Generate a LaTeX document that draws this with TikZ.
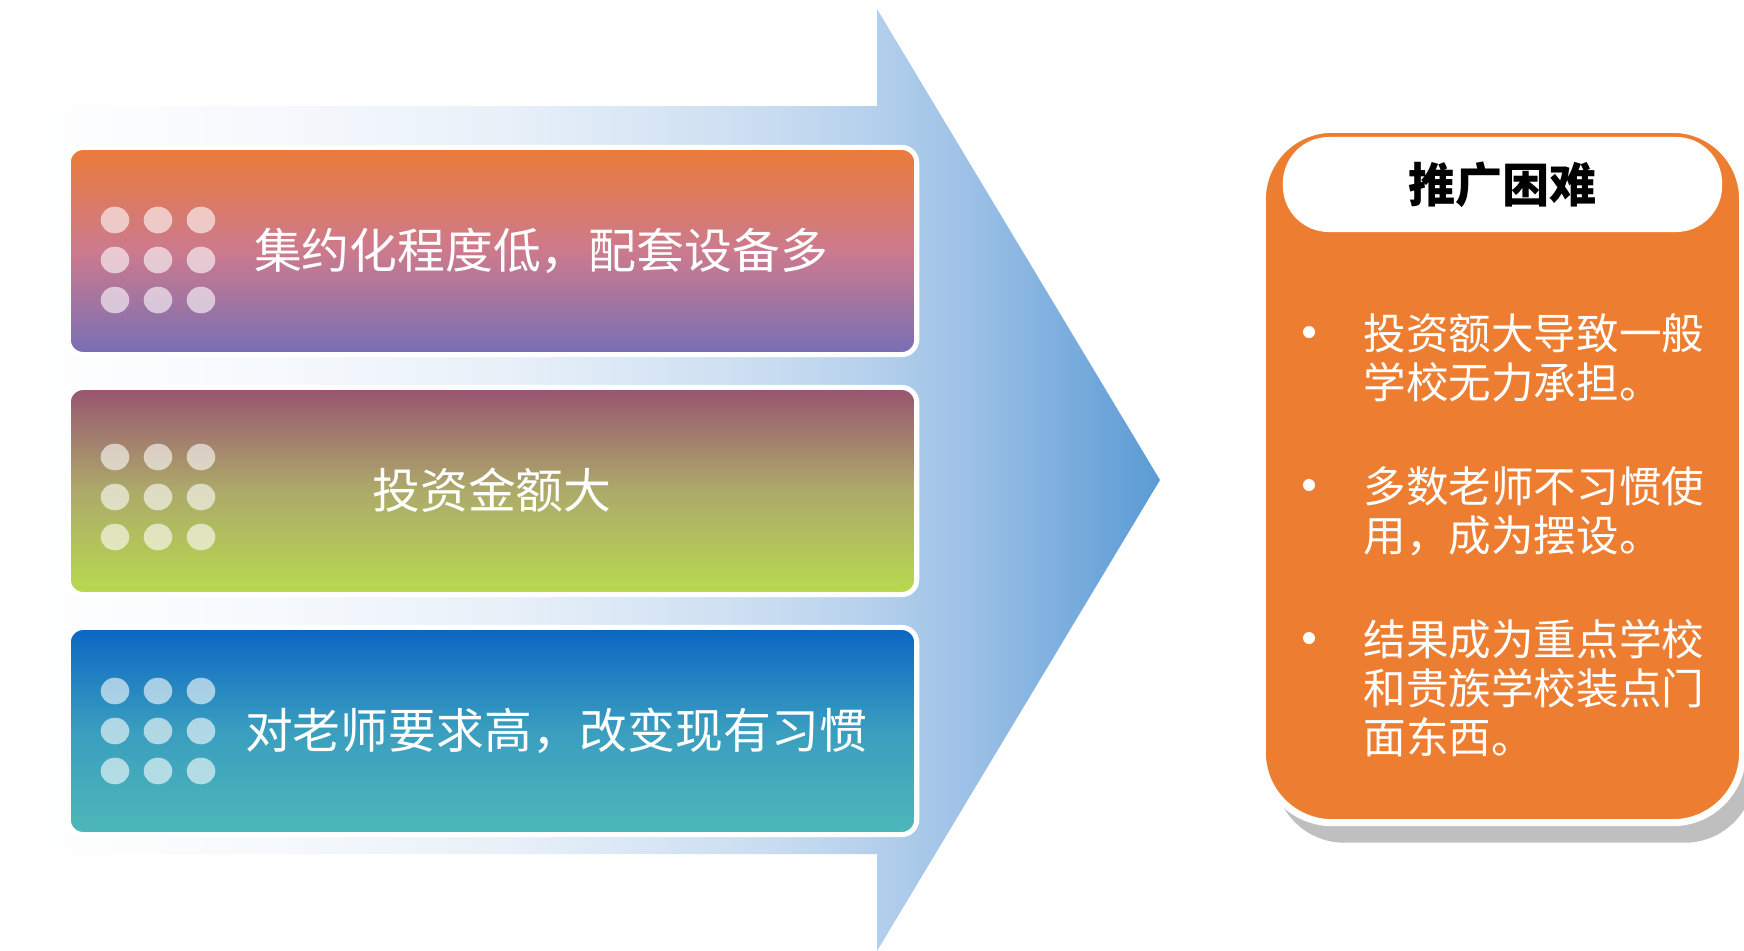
\documentclass[tikz,border=0pt]{standalone}
\usepackage{fontspec}
\usepackage{tikz}
\usepackage{xcolor}
\usetikzlibrary{positioning}
\usetikzlibrary{shadows}
\newfontfamily\cjk{Noto Sans CJK SC}

\definecolor{arrowA}{HTML}{F6F9FD}
\definecolor{arrowB}{HTML}{E8F0F9}
\definecolor{arrowC}{HTML}{CADDF1}
\definecolor{arrowD}{HTML}{B8D2ED}
\definecolor{arrowE}{HTML}{9BC0E6}
\definecolor{arrowF}{HTML}{6EA6DA}
\definecolor{arrowG}{HTML}{5B9BD5}
\definecolor{costtop}{HTML}{EB7B38}
\definecolor{costmid}{HTML}{CC7A8E}
\definecolor{costbot}{HTML}{776FB5}
\definecolor{moneytop}{HTML}{985470}
\definecolor{moneymid}{HTML}{ADAA6A}
\definecolor{moneybot}{HTML}{B8DA4E}
\definecolor{teachtop}{HTML}{0A66C2}
\definecolor{teachmid}{HTML}{3A9EBF}
\definecolor{teachbot}{HTML}{4DB8B8}
\definecolor{panelorange}{HTML}{ED7D31}
\definecolor{shadowgray}{HTML}{BFBFBF}

\pgfdeclarehorizontalshading{arrowfade}{100bp}{color(0bp)=(white); color(25bp)=(white); color(37bp)=(arrowA); color(47bp)=(arrowB); color(58bp)=(arrowC); color(62bp)=(arrowD); color(67bp)=(arrowE); color(72.5bp)=(arrowF); color(75bp)=(arrowG); color(100bp)=(arrowG)}

\tikzset{
  card/.style={rectangle, rounded corners=0.15cm, draw=white, line width=0.05cm,
    minimum width=8.48cm, minimum height=2.07cm, inner sep=0pt},
  cardtext/.style={font=\cjk\fontsize{13.6pt}{16pt}\selectfont, text=white},
  dotfill/.style={fill=white, fill opacity=0.6},
  panel/.style={rectangle, rounded corners=0.7cm, fill=panelorange, draw=white, line width=0.07cm,
    minimum width=4.8cm, minimum height=6.93cm, inner sep=0pt,
    drop shadow={shadow xshift=0.12cm, shadow yshift=-0.2cm, fill=shadowgray, opacity=1}},
  headpill/.style={rectangle, rounded corners=0.46cm, fill=white, minimum width=4.39cm,
    minimum height=0.95cm, inner sep=0pt, font=\cjk\bfseries\fontsize{13.4pt}{16pt}\selectfont},
  itemtext/.style={anchor=north west, inner sep=0pt, align=left, text=white,
    font=\cjk\fontsize{12.1pt}{13.9pt}\selectfont}
}

\begin{document}
\begin{tikzpicture}[x=0.01cm,y=-0.01cm]
\useasboundingbox (0,0) rectangle (1744,951);

% big arrow behind the cards
\shade[shading=arrowfade] (0,106) -- (877,106) -- (877,9) -- (1160,480) -- (877,951) -- (877,854) -- (0,854) -- cycle;

\node[card, top color=costtop, bottom color=costbot, middle color=costmid] (cost) at (492.5,251) {};
\node[card, top color=moneytop, bottom color=moneybot, middle color=moneymid] (money) at (492.5,491) {};
\node[card, top color=teachtop, bottom color=teachbot, middle color=teachmid] (teach) at (492.5,731) {};

% 3x3 dots on each card
\foreach \cy in {260,497,731}
  \foreach \dy in {-40,0,40}
    \foreach \cx in {115,158,201}
      \fill[dotfill] (\cx,\cy+\dy) ellipse [x radius=14.3, y radius=13.3];

\node[cardtext] (costtext) at (541,251) {集约化程度低，配套设备多};
\node[cardtext] (moneytext) at (492,490) {投资金额大};
\node[cardtext] (teachtext) at (556,731) {对老师要求高，改变现有习惯};

% right panel
\node[panel] (hard) at (1502.5,476) {};
\node[headpill] (hardtitle) at (1502.5,184.5) {推广困难};

\fill[white] (1309,332) circle [radius=6];
\fill[white] (1309,485) circle [radius=6];
\fill[white] (1309,638) circle [radius=6];
\node[itemtext] (itemcost) at (1363,313) {投资额大导致一般\\学校无力承担。};
\node[itemtext] (itemuse) at (1363,466) {多数老师不习惯使\\用，成为摆设。};
\node[itemtext] (itemshow) at (1363,619) {结果成为重点学校\\和贵族学校装点门\\面东西。};
\end{tikzpicture}
\end{document}
